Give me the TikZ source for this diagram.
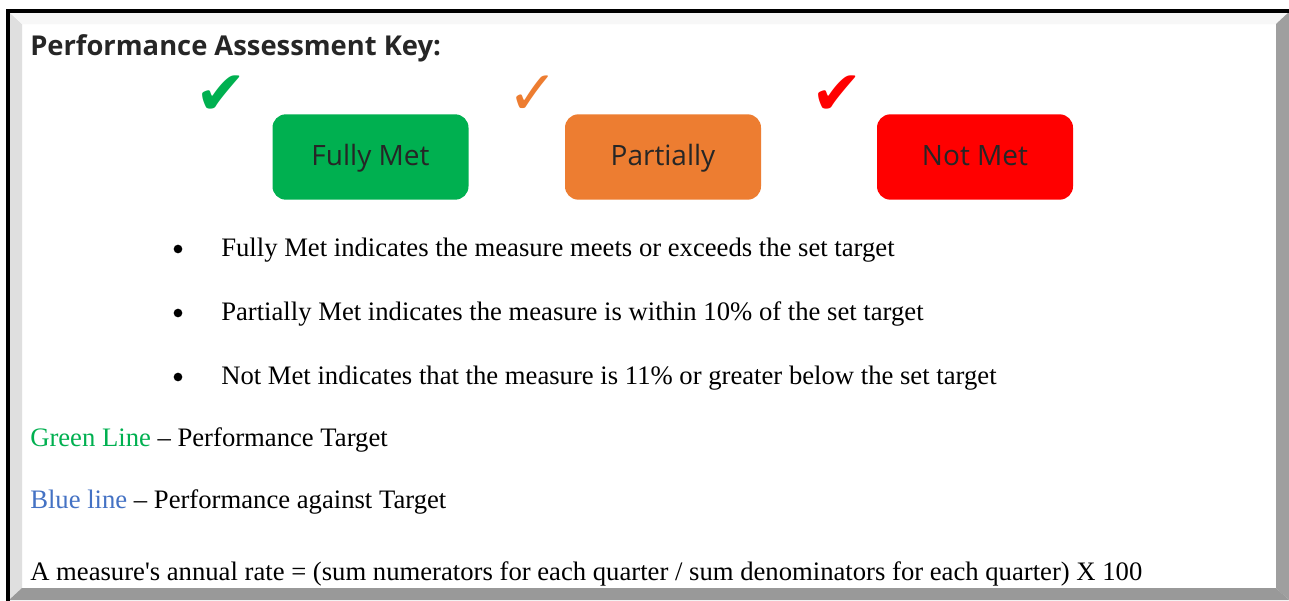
\documentclass[tikz,border=0pt]{standalone}
\usepackage{fontspec}
\setmainfont{Liberation Serif}
\newfontfamily\uifont{Open Sans}
\newfontfamily\symfont{DejaVu Sans}

\definecolor{metgreen}{RGB}{0,176,80}
\definecolor{partorange}{RGB}{237,125,49}
\definecolor{notred}{RGB}{255,0,0}
\definecolor{lineblue}{RGB}{68,114,196}
\definecolor{labelgrey}{RGB}{38,38,38}

\begin{document}
\begin{tikzpicture}[
    x=0.75pt, y=-0.75pt,
    keybox/.style={
        rectangle,
        rounded corners=10pt,
        minimum width=147pt,
        minimum height=64pt,
        text height=16pt,
        text depth=4pt,
        text=labelgrey,
        font=\uifont\fontsize{21}{24}\selectfont
    },
    tick/.style={
        inner sep=0pt,
        font=\symfont\fontsize{46}{46}\selectfont
    },
    bulletdot/.style={
        circle,
        fill=black,
        inner sep=0pt,
        minimum size=6.5pt
    },
    body/.style={
        anchor=base west,
        inner sep=0pt,
        font=\fontsize{20}{24}\selectfont
    }
]
\useasboundingbox (0,0) rectangle (1289,600);

% Bevelled frame
\fill[white] (6,9) rectangle (1289,600);
\fill[gray!25] (9,12) -- (22,24) -- (22,588) -- (9,600) -- cycle;
\fill[gray!6] (9,12) -- (1289,12) -- (1276,24) -- (22,24) -- cycle;
\fill[gray!75] (1289,12) -- (1289,600) -- (1276,588) -- (1276,24) -- cycle;
\fill[gray!80] (9,600) -- (22,588) -- (1276,588) -- (1289,600) -- cycle;
\draw[line width=3pt, line cap=rect] (7.5,600) -- (7.5,10.5) -- (1289,10.5);

% Heading
\node[anchor=base west, inner sep=0pt, text=labelgrey,
      font=\uifont\bfseries\fontsize{20.5}{24}\selectfont] (title) at (30,55)
    {Performance Assessment Key:};

% Ratings
\node[keybox, fill=metgreen] (fully) at (370.5,157) {Fully Met};
\node[keybox, fill=partorange] (partial) at (663,157) {Partially};
\node[keybox, fill=notred] (notmet) at (975,157) {Not Met};

\node[tick, text=metgreen] (tickfully) at (221,95) {✔};
\node[tick, text=partorange] (tickpartial) at (533,95) {✓};
\node[tick, text=notred] (ticknotmet) at (837,95) {✔};

% Bullet list
\node[bulletdot] (dot1) at (178,249) {};
\node[body] (item1) at (221,256) {Fully Met indicates the measure meets or exceeds the set target};
\node[bulletdot] (dot2) at (178,313) {};
\node[body] (item2) at (221,320) {Partially Met indicates the measure is within 10\% of the set target};
\node[bulletdot] (dot3) at (178,377) {};
\node[body] (item3) at (221,384) {Not Met indicates that the measure is 11\% or greater below the set target};

% Lines
\node[body] (greenline) at (30,446) {\textcolor{metgreen}{Green Line} -- Performance Target};
\node[body] (blueline) at (30,508) {\textcolor{lineblue}{Blue line} -- Performance against Target};

% Annual rate
\node[body] (rate) at (30,580) {A measure\textquotesingle s annual rate = (sum numerators for each quarter / sum denominators for each quarter) X 100};

\end{tikzpicture}
\end{document}
